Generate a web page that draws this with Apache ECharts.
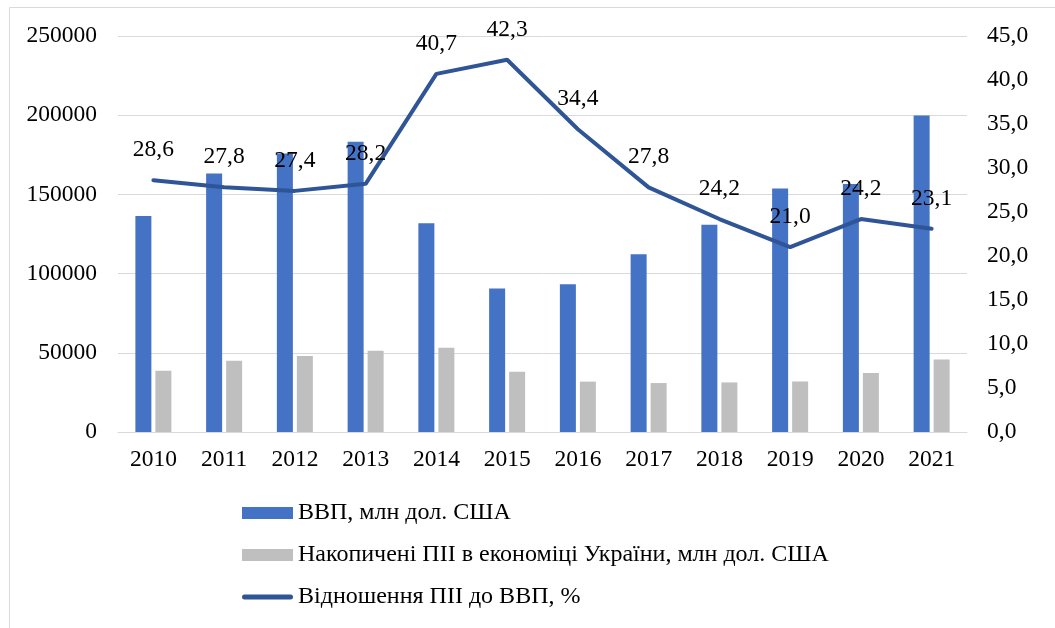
<!DOCTYPE html>
<html>
<head>
<meta charset="utf-8">
<script src="https://cdn.jsdelivr.net/npm/echarts@6/dist/echarts.min.js"></script>
<style>
  html, body { margin: 0; padding: 0; background: #fff; }
  #chart { width: 1055px; height: 628px; }
</style>
</head>
<body>
<div id="chart"></div>
<script>
const years = ['2010', '2011', '2012', '2013', '2014', '2015', '2016', '2017', '2018', '2019', '2020', '2021'];
const gdp = [136400, 163200, 175800, 183300, 131800, 90600, 93300, 112200, 130900, 153800, 156600, 199800];
const fdi = [38700, 45000, 48000, 51300, 53200, 38100, 31800, 30900, 31300, 31900, 37200, 45800];
const ratio = [28.6, 27.8, 27.4, 28.2, 40.7, 42.3, 34.4, 27.8, 24.2, 21.0, 24.2, 23.1];

const font = '"Liberation Serif", "Times New Roman", serif';
const comma = v => v.toFixed(1).replace('.', ',');
const legendText = { fontFamily: font, fontSize: 24, color: '#000', lineHeight: 24 };

const myChart = echarts.init(document.getElementById('chart'));

myChart.setOption({
    animation: false,
    textStyle: { fontFamily: font },
    graphic: [{
        type: 'rect',
        shape: { x: 9.5, y: 7.5, width: 1100, height: 700 },
        style: { fill: 'none', stroke: '#d9d9d9', lineWidth: 1 },
        silent: true
    }],
    grid: { left: 118, right: 88, top: 36, bottom: 196 },
    legend: {
        orient: 'vertical',
        left: 237,
        top: 496,
        itemWidth: 51,
        itemHeight: 12,
        itemGap: 18,
        textStyle: legendText,
        data: [
            { name: 'ВВП, млн дол. США', icon: 'rect', textStyle: legendText },
            { name: 'Накопичені ПІІ в економіці України, млн дол. США', icon: 'rect', textStyle: legendText },
            { name: 'Відношення ПІІ до ВВП, %', icon: 'path://M2.5,0 L48.5,0 A2.5,2.5 0 0 1 48.5,5 L2.5,5 A2.5,2.5 0 0 1 2.5,0 Z', textStyle: legendText }
        ]
    },
    xAxis: {
        type: 'category',
        data: years,
        axisLine: { lineStyle: { color: '#d9d9d9', width: 1 } },
        axisTick: { show: false },
        axisLabel: { color: '#000', fontSize: 23.5, fontFamily: font, margin: 16 }
    },
    yAxis: [{
        type: 'value',
        min: 0,
        max: 250000,
        interval: 50000,
        axisLine: { show: false },
        axisTick: { show: false },
        axisLabel: { color: '#000', fontSize: 23.5, fontFamily: font, margin: 21, formatter: v => String(v) },
        splitLine: { lineStyle: { color: '#d9d9d9', width: 1 } }
    }, {
        type: 'value',
        min: 0,
        max: 45,
        interval: 5,
        axisLine: { show: false },
        axisTick: { show: false },
        axisLabel: { color: '#000', fontSize: 23.5, fontFamily: font, margin: 20, formatter: comma },
        splitLine: { show: false }
    }],
    series: [{
        name: 'ВВП, млн дол. США',
        type: 'bar',
        data: gdp,
        barWidth: 16,
        barGap: '25%',
        itemStyle: { color: '#4472c4' }
    }, {
        name: 'Накопичені ПІІ в економіці України, млн дол. США',
        type: 'bar',
        data: fdi,
        barWidth: 16,
        itemStyle: { color: '#bfbfbf' }
    }, {
        name: 'Відношення ПІІ до ВВП, %',
        type: 'line',
        yAxisIndex: 1,
        data: ratio,
        symbol: 'circle',
        symbolSize: 0.1,
        showSymbol: true,
        lineStyle: { color: '#2f5597', width: 4, cap: 'round' },
        itemStyle: { color: '#2f5597' },
        z: 5,
        label: {
            show: true,
            position: 'top',
            distance: 18,
            color: '#000',
            fontSize: 23.5,
            fontFamily: font,
            formatter: p => comma(p.value)
        }
    }]
});
</script>
</body>
</html>
